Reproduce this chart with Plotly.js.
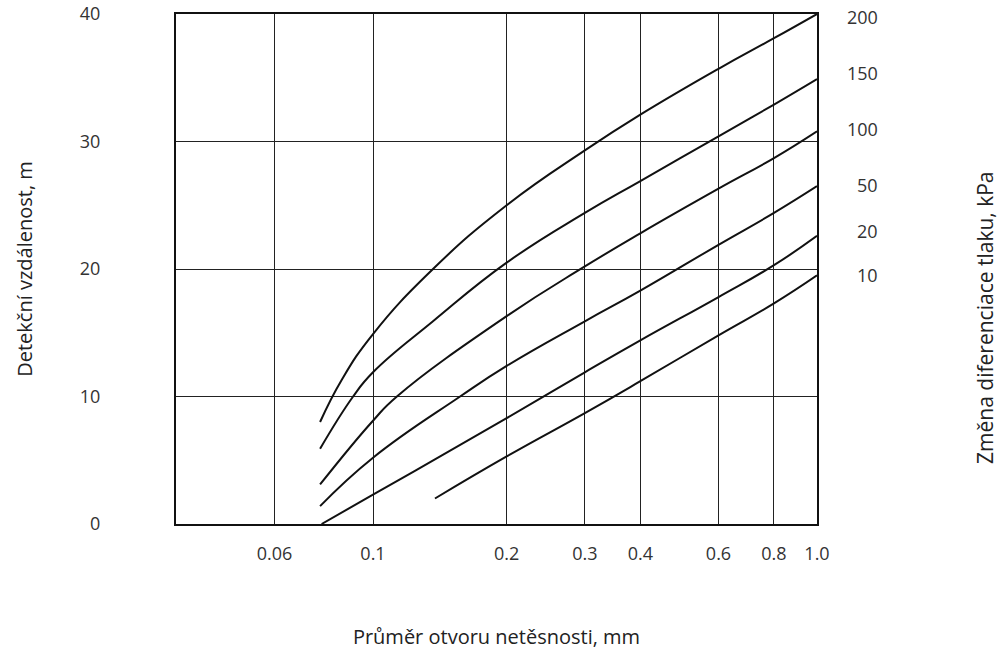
<!DOCTYPE html>
<html>
<head>
<meta charset="utf-8">
<script src="https://cdn.plot.ly/plotly-3.0.1.min.js"></script>
<style>html,body{margin:0;padding:0;background:#fff;}#chart{width:1008px;height:650px;}</style>
</head>
<body>
<div id="chart"></div>
<script>
// Pressure-difference labels (kPa), top curve first, and their vertical positions (m)
const pressureLabels = ["200", "150", "100", "50", "20", "10"];
const pressureLabelY = [39.8, 35.4, 31.0, 26.6, 23.0, 19.5];

// Leak hole diameter (mm) / detection distance (m) for each curve
const x200 = [0.076, 0.085, 0.1, 0.1365, 0.2, 0.3, 0.4, 0.6, 0.8, 1.0];
const y200 = [8.0, 11.3, 14.9, 20.0, 25.0, 29.3, 32.1, 35.7, 38.1, 40.0];

const x150 = [0.076, 0.0902, 0.1, 0.1365, 0.2, 0.3, 0.4, 0.6, 0.8, 1.0];
const y150 = [5.9, 10.0, 11.9, 15.9, 20.5, 24.4, 26.9, 30.4, 32.9, 34.9];

const x100 = [0.076, 0.1, 0.1132, 0.2, 0.3, 0.4, 0.6, 0.8, 1.0];
const y100 = [3.1, 8.1, 10.0, 16.3, 20.2, 22.8, 26.3, 28.7, 30.8];

const x50 = [0.076, 0.1, 0.1571, 0.2, 0.3, 0.4, 0.6, 0.8, 1.0];
const y50 = [1.4, 5.2, 10.0, 12.4, 15.9, 18.3, 21.9, 24.4, 26.5];

const x20 = [0.0766, 0.1, 0.2, 0.3, 0.4, 0.6, 0.8, 1.0];
const y20 = [0.0, 2.3, 8.3, 11.9, 14.4, 17.8, 20.3, 22.6];

const x10 = [0.1379, 0.2, 0.3, 0.4, 0.6, 0.8, 1.0];
const y10 = [2.0, 5.3, 8.7, 11.2, 14.8, 17.3, 19.5];

// Axis ticks
const xTickVals = [0.06, 0.1, 0.2, 0.3, 0.4, 0.6, 0.8, 1.0];
const xTickText = ["0.06", "0.1", "0.2", "0.3", "0.4", "0.6", "0.8", "1.0"];
const yTickVals = [0, 10, 20, 30, 40];
const yTickText = ["0", "10", "20", "30", "40"];

const seriesX = [x200, x150, x100, x50, x20, x10];
const seriesY = [y200, y150, y100, y50, y20, y10];

const traces = seriesX.map((xs, i) => ({
  x: xs,
  y: seriesY[i],
  type: "scatter",
  mode: "lines",
  name: pressureLabels[i] + " kPa",
  line: {color: "#111", width: 2, shape: "spline", smoothing: 1.3},
  hoverinfo: "x+y+name"
}));

const fam = "Open Sans, Noto Sans, sans-serif";

const annotations = pressureLabels.map((lab, i) => ({
  xref: "paper", yref: "y",
  x: 1, y: pressureLabelY[i],
  xanchor: "right", yanchor: "middle",
  xshift: 63,
  text: lab,
  showarrow: false,
  font: {family: fam, color: "#333", size: 18}
}));

annotations.push({
  xref: "paper", yref: "paper",
  x: 1.262, y: 0.404,
  xanchor: "center", yanchor: "middle",
  textangle: -90,
  text: "Změna diferenciace tlaku, kPa",
  showarrow: false,
  font: {family: fam, color: "#222", size: 21}
});

const layout = {
  width: 1008, height: 650,
  margin: {l: 176, r: 191, t: 14, b: 126},
  paper_bgcolor: "#fff", plot_bgcolor: "#fff",
  showlegend: false,
  font: {family: fam, color: "#333"},
  xaxis: {
    type: "log",
    range: [-1.4437, 0],
    tickvals: xTickVals, ticktext: xTickText,
    showgrid: true, gridcolor: "#222", gridwidth: 1,
    showline: true, mirror: true, linecolor: "#111", linewidth: 2,
    ticks: "", zeroline: false,
    ticklabelstandoff: 12,
    tickfont: {family: fam, size: 18, color: "#333"},
    title: {text: "Průměr otvoru netěsnosti, mm", font: {family: fam, size: 20, color: "#222"}, standoff: 66}
  },
  yaxis: {
    range: [0, 40],
    tickvals: yTickVals, ticktext: yTickText,
    showgrid: true, gridcolor: "#222", gridwidth: 1,
    showline: true, mirror: true, linecolor: "#111", linewidth: 2,
    ticks: "", zeroline: false,
    ticklabelstandoff: 70,
    tickfont: {family: fam, size: 18, color: "#333"},
    title: {text: "Detekční vzdálenost, m", font: {family: fam, size: 20, color: "#222"}, standoff: 42}
  },
  annotations: annotations
};

Plotly.newPlot("chart", traces, layout, {displayModeBar: false, staticPlot: true});
</script>
</body>
</html>
